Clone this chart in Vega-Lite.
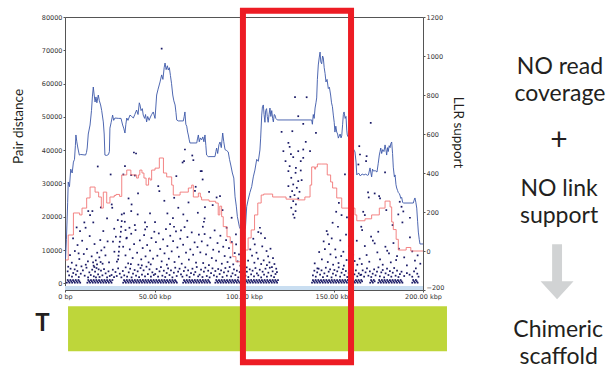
{
"$schema":"https://vega.github.io/schema/vega-lite/v6.json",
"width":358,"height":273,
"autosize":{"type":"none"},
"padding":{"left":65,"top":17,"right":188,"bottom":78},
"background":"white",
"config":{"view":{"stroke":"#555","strokeWidth":1},"axis":{"labelFont":"DejaVu Sans","labelFontSize":6.5,"labelColor":"#333","tickColor":"#555","tickSize":2,"labelPadding":1,"domain":false,"grid":false,"labelFlush":false,"labelOverlap":false,"tickCount":20,"titleFont":"Lato","titleFontSize":13.5,"titleFontWeight":"normal","titleColor":"#231F20"}},
"datasets":{
"pairs":[
{"kbp":1,"dist":200},{"kbp":1.5,"dist":1000},{"kbp":2,"dist":600},{"kbp":2.5,"dist":200},{"kbp":3,"dist":1000},{"kbp":3.5,"dist":600},{"kbp":4,"dist":200},{"kbp":4.5,"dist":1000},{"kbp":5,"dist":600},{"kbp":5.5,"dist":200},{"kbp":6,"dist":1000},{"kbp":6.5,"dist":600},{"kbp":7,"dist":200},{"kbp":7.5,"dist":1000},{"kbp":8,"dist":600},{"kbp":8.5,"dist":200},
{"kbp":12.5,"dist":200},{"kbp":13,"dist":1000},{"kbp":13.5,"dist":600},{"kbp":14,"dist":200},{"kbp":14.5,"dist":1000},{"kbp":15,"dist":600},{"kbp":15.5,"dist":200},{"kbp":16,"dist":1000},{"kbp":16.5,"dist":600},{"kbp":17,"dist":200},{"kbp":17.5,"dist":1000},{"kbp":18,"dist":600},{"kbp":18.5,"dist":200},{"kbp":19,"dist":1000},{"kbp":19.5,"dist":600},{"kbp":20,"dist":200},{"kbp":20.5,"dist":1000},{"kbp":21,"dist":600},{"kbp":21.5,"dist":200},{"kbp":22,"dist":1000},{"kbp":22.5,"dist":600},{"kbp":23,"dist":200},{"kbp":23.5,"dist":1000},{"kbp":24,"dist":600},{"kbp":24.5,"dist":200},{"kbp":25,"dist":1000},{"kbp":25.5,"dist":600},{"kbp":26,"dist":200},{"kbp":26.5,"dist":1000},
{"kbp":32.5,"dist":200},{"kbp":33,"dist":1000},{"kbp":33.5,"dist":600},{"kbp":34,"dist":200},{"kbp":34.5,"dist":1000},{"kbp":35,"dist":600},{"kbp":35.5,"dist":200},{"kbp":36,"dist":1000},{"kbp":36.5,"dist":600},{"kbp":37,"dist":200},{"kbp":37.5,"dist":1000},{"kbp":38,"dist":600},{"kbp":38.5,"dist":200},{"kbp":39,"dist":1000},{"kbp":39.5,"dist":600},{"kbp":40,"dist":200},{"kbp":40.5,"dist":1000},{"kbp":41,"dist":600},{"kbp":41.5,"dist":200},{"kbp":42,"dist":1000},{"kbp":42.5,"dist":600},{"kbp":43,"dist":200},{"kbp":43.5,"dist":1000},{"kbp":44,"dist":600},{"kbp":44.5,"dist":200},{"kbp":45,"dist":1000},{"kbp":45.5,"dist":600},{"kbp":46,"dist":200},{"kbp":46.5,"dist":1000},{"kbp":47,"dist":600},{"kbp":47.5,"dist":200},{"kbp":48,"dist":1000},{"kbp":48.5,"dist":600},{"kbp":49,"dist":200},{"kbp":49.5,"dist":1000},{"kbp":50,"dist":600},{"kbp":50.5,"dist":200},{"kbp":51,"dist":1000},{"kbp":51.5,"dist":600},{"kbp":52,"dist":200},{"kbp":52.5,"dist":1000},{"kbp":53,"dist":600},{"kbp":53.5,"dist":200},{"kbp":54,"dist":1000},{"kbp":54.5,"dist":600},{"kbp":55,"dist":200},{"kbp":55.5,"dist":1000},{"kbp":56,"dist":600},{"kbp":56.5,"dist":200},{"kbp":57,"dist":1000},{"kbp":57.5,"dist":600},{"kbp":58,"dist":200},{"kbp":58.5,"dist":1000},{"kbp":59,"dist":600},{"kbp":59.5,"dist":200},{"kbp":60,"dist":1000},{"kbp":60.5,"dist":600},{"kbp":61,"dist":200},{"kbp":61.5,"dist":1000},{"kbp":62,"dist":600},{"kbp":62.5,"dist":200},
{"kbp":66,"dist":200},{"kbp":66.5,"dist":1000},{"kbp":67,"dist":600},{"kbp":67.5,"dist":200},{"kbp":68,"dist":1000},{"kbp":68.5,"dist":600},{"kbp":69,"dist":200},{"kbp":69.5,"dist":1000},{"kbp":70,"dist":600},{"kbp":70.5,"dist":200},{"kbp":71,"dist":1000},{"kbp":71.5,"dist":600},{"kbp":72,"dist":200},{"kbp":72.5,"dist":1000},{"kbp":73,"dist":600},{"kbp":73.5,"dist":200},{"kbp":74,"dist":1000},{"kbp":74.5,"dist":600},{"kbp":75,"dist":200},{"kbp":75.5,"dist":1000},{"kbp":76,"dist":600},{"kbp":76.5,"dist":200},{"kbp":77,"dist":1000},{"kbp":77.5,"dist":600},{"kbp":78,"dist":200},{"kbp":78.5,"dist":1000},{"kbp":79,"dist":600},{"kbp":79.5,"dist":200},{"kbp":80,"dist":1000},{"kbp":80.5,"dist":600},{"kbp":81,"dist":200},
{"kbp":84,"dist":200},{"kbp":84.5,"dist":1000},{"kbp":85,"dist":600},{"kbp":85.5,"dist":200},{"kbp":86,"dist":1000},{"kbp":86.5,"dist":600},{"kbp":87,"dist":200},{"kbp":87.5,"dist":1000},{"kbp":88,"dist":600},{"kbp":88.5,"dist":200},{"kbp":89,"dist":1000},{"kbp":89.5,"dist":600},{"kbp":90,"dist":200},{"kbp":90.5,"dist":1000},{"kbp":91,"dist":600},{"kbp":91.5,"dist":200},{"kbp":92,"dist":1000},{"kbp":92.5,"dist":600},{"kbp":93,"dist":200},{"kbp":93.5,"dist":1000},{"kbp":94,"dist":600},{"kbp":94.5,"dist":200},{"kbp":95,"dist":1000},{"kbp":95.5,"dist":600},{"kbp":96,"dist":200},{"kbp":96.5,"dist":1000},{"kbp":97,"dist":600},{"kbp":97.5,"dist":200},
{"kbp":100.5,"dist":200},{"kbp":101,"dist":1000},{"kbp":101.5,"dist":600},{"kbp":102,"dist":200},{"kbp":102.5,"dist":1000},{"kbp":103,"dist":600},{"kbp":103.5,"dist":200},{"kbp":104,"dist":1000},{"kbp":104.5,"dist":600},{"kbp":105,"dist":200},{"kbp":105.5,"dist":1000},{"kbp":106,"dist":600},{"kbp":106.5,"dist":200},{"kbp":107,"dist":1000},{"kbp":107.5,"dist":600},{"kbp":108,"dist":200},{"kbp":108.5,"dist":1000},{"kbp":109,"dist":600},{"kbp":109.5,"dist":200},{"kbp":110,"dist":1000},{"kbp":110.5,"dist":600},{"kbp":111,"dist":200},{"kbp":111.5,"dist":1000},{"kbp":112,"dist":600},{"kbp":112.5,"dist":200},{"kbp":113,"dist":1000},{"kbp":113.5,"dist":600},{"kbp":114,"dist":200},{"kbp":114.5,"dist":1000},{"kbp":115,"dist":600},{"kbp":115.5,"dist":200},{"kbp":116,"dist":1000},{"kbp":116.5,"dist":600},{"kbp":117,"dist":200},{"kbp":117.5,"dist":1000},{"kbp":118,"dist":600},{"kbp":118.5,"dist":200},{"kbp":119,"dist":1000},
{"kbp":138,"dist":200},{"kbp":138.5,"dist":1000},{"kbp":139,"dist":600},{"kbp":139.5,"dist":200},{"kbp":140,"dist":1000},{"kbp":140.5,"dist":600},{"kbp":141,"dist":200},{"kbp":141.5,"dist":1000},{"kbp":142,"dist":600},{"kbp":142.5,"dist":200},{"kbp":143,"dist":1000},{"kbp":143.5,"dist":600},{"kbp":144,"dist":200},{"kbp":144.5,"dist":1000},{"kbp":145,"dist":600},{"kbp":145.5,"dist":200},{"kbp":146,"dist":1000},{"kbp":146.5,"dist":600},{"kbp":147,"dist":200},{"kbp":147.5,"dist":1000},{"kbp":148,"dist":600},{"kbp":148.5,"dist":200},{"kbp":149,"dist":1000},{"kbp":149.5,"dist":600},{"kbp":150,"dist":200},{"kbp":150.5,"dist":1000},{"kbp":151,"dist":600},{"kbp":151.5,"dist":200},{"kbp":152,"dist":1000},{"kbp":152.5,"dist":600},{"kbp":153,"dist":200},{"kbp":153.5,"dist":1000},{"kbp":154,"dist":600},{"kbp":154.5,"dist":200},{"kbp":155,"dist":1000},{"kbp":155.5,"dist":600},{"kbp":156,"dist":200},{"kbp":156.5,"dist":1000},{"kbp":157,"dist":600},{"kbp":157.5,"dist":200},{"kbp":158,"dist":1000},{"kbp":158.5,"dist":600},{"kbp":159,"dist":200},{"kbp":159.5,"dist":1000},{"kbp":160,"dist":600},{"kbp":160.5,"dist":200},{"kbp":161,"dist":1000},{"kbp":161.5,"dist":600},{"kbp":162,"dist":200},{"kbp":162.5,"dist":1000},{"kbp":163,"dist":600},{"kbp":163.5,"dist":200},{"kbp":164,"dist":1000},{"kbp":164.5,"dist":600},{"kbp":165,"dist":200},{"kbp":165.5,"dist":1000},{"kbp":166,"dist":600},
{"kbp":170.5,"dist":200},{"kbp":171,"dist":1000},{"kbp":171.5,"dist":600},{"kbp":172,"dist":200},{"kbp":172.5,"dist":1000},{"kbp":173,"dist":600},
{"kbp":175,"dist":200},{"kbp":175.5,"dist":1000},{"kbp":176,"dist":600},{"kbp":176.5,"dist":200},{"kbp":177,"dist":1000},{"kbp":177.5,"dist":600},{"kbp":178,"dist":200},{"kbp":178.5,"dist":1000},{"kbp":179,"dist":600},{"kbp":179.5,"dist":200},{"kbp":180,"dist":1000},{"kbp":180.5,"dist":600},{"kbp":181,"dist":200},{"kbp":181.5,"dist":1000},{"kbp":182,"dist":600},{"kbp":182.5,"dist":200},{"kbp":183,"dist":1000},{"kbp":183.5,"dist":600},{"kbp":184,"dist":200},{"kbp":184.5,"dist":1000},{"kbp":185,"dist":600},{"kbp":185.5,"dist":200},{"kbp":186,"dist":1000},{"kbp":186.5,"dist":600},{"kbp":187,"dist":200},{"kbp":187.5,"dist":1000},{"kbp":188,"dist":600},{"kbp":188.5,"dist":200},
{"kbp":194,"dist":200},{"kbp":194.5,"dist":1000},{"kbp":195,"dist":600},{"kbp":195.5,"dist":200},{"kbp":196,"dist":1000},{"kbp":196.5,"dist":600},{"kbp":197,"dist":200},
{"kbp":18.3,"dist":35100},{"kbp":15.3,"dist":21700},{"kbp":13,"dist":21700},{"kbp":14,"dist":20500},{"kbp":10.8,"dist":18300},{"kbp":15.8,"dist":18300},{"kbp":8.4,"dist":15700},{"kbp":11.5,"dist":16700},{"kbp":21.4,"dist":15700},{"kbp":6.5,"dist":16800},{"kbp":23.5,"dist":19500},{"kbp":20,"dist":22800},
{"kbp":4.5,"dist":13500},{"kbp":7,"dist":11500},{"kbp":9.6,"dist":12800},{"kbp":12.2,"dist":10300},{"kbp":13.8,"dist":14200},{"kbp":16.5,"dist":11800},{"kbp":18,"dist":9200},{"kbp":19.7,"dist":13000},{"kbp":22,"dist":10800},{"kbp":23.8,"dist":12600},{"kbp":2.8,"dist":8500},{"kbp":5.5,"dist":9700},{"kbp":8,"dist":7300},{"kbp":10.5,"dist":8800},{"kbp":12.8,"dist":6600},{"kbp":14.9,"dist":8100},{"kbp":17.2,"dist":6900},{"kbp":19.2,"dist":7800},{"kbp":21,"dist":5900},{"kbp":22.6,"dist":8400},{"kbp":24.6,"dist":6300},{"kbp":3.8,"dist":6200},{"kbp":6.3,"dist":5400},{"kbp":9.2,"dist":5100},{"kbp":11.6,"dist":5600},{"kbp":16,"dist":5300},{"kbp":20.3,"dist":9900},{"kbp":1.8,"dist":5000},{"kbp":7.6,"dist":9000},
{"kbp":1.5,"dist":3600},{"kbp":2.3,"dist":2400},{"kbp":3.1,"dist":4400},{"kbp":3.9,"dist":2000},{"kbp":4.6,"dist":3100},{"kbp":5.4,"dist":4200},{"kbp":6.1,"dist":2600},{"kbp":6.9,"dist":3700},{"kbp":7.7,"dist":1900},{"kbp":8.8,"dist":2900},{"kbp":10,"dist":3900},{"kbp":11,"dist":2300},{"kbp":12,"dist":4700},{"kbp":12.9,"dist":1800},{"kbp":13.6,"dist":3300},{"kbp":14.4,"dist":2500},{"kbp":15.2,"dist":4100},{"kbp":16.1,"dist":2100},{"kbp":16.8,"dist":3500},{"kbp":17.6,"dist":4600},{"kbp":18.5,"dist":2700},{"kbp":19.3,"dist":1900},{"kbp":20.1,"dist":3800},{"kbp":20.9,"dist":2400},{"kbp":21.8,"dist":4300},{"kbp":22.7,"dist":3000},{"kbp":23.5,"dist":1800},{"kbp":24.3,"dist":3600},{"kbp":25,"dist":2200},{"kbp":17.9,"dist":5700},{"kbp":15.7,"dist":6300},{"kbp":19.9,"dist":6400},{"kbp":18.8,"dist":4200},{"kbp":16.4,"dist":4900},{"kbp":17.3,"dist":1800},
{"kbp":25.5,"dist":32700},{"kbp":32.6,"dist":32700},{"kbp":33.5,"dist":35200},{"kbp":38.5,"dist":39300},{"kbp":39.7,"dist":39000},{"kbp":37,"dist":32500},{"kbp":39,"dist":32400},{"kbp":40.8,"dist":27000},{"kbp":26.1,"dist":23700},{"kbp":26.4,"dist":22700},{"kbp":37.2,"dist":23700},{"kbp":37,"dist":21700},{"kbp":31.7,"dist":20700},{"kbp":40.6,"dist":20700},{"kbp":47.5,"dist":21000},{"kbp":44.7,"dist":18300},{"kbp":45.8,"dist":17000},{"kbp":35.5,"dist":25500},{"kbp":29.5,"dist":19000},
{"kbp":31.7,"dist":18700},{"kbp":31.4,"dist":17000},{"kbp":31.2,"dist":15500},{"kbp":30.9,"dist":14000},{"kbp":30.6,"dist":12500},{"kbp":30.3,"dist":11000},{"kbp":30.1,"dist":9500},{"kbp":29.9,"dist":8300},{"kbp":29.7,"dist":7200},{"kbp":33,"dist":21000},{"kbp":33.4,"dist":18500},{"kbp":33.8,"dist":16000},{"kbp":34.3,"dist":13500},
{"kbp":26.8,"dist":12500},{"kbp":27.6,"dist":9500},{"kbp":28.4,"dist":14000},{"kbp":29,"dist":6500},{"kbp":32.5,"dist":11000},{"kbp":33.8,"dist":8400},{"kbp":34.5,"dist":13700},{"kbp":35.3,"dist":6000},{"kbp":36.2,"dist":10200},{"kbp":37,"dist":14900},{"kbp":37.8,"dist":7600},{"kbp":38.6,"dist":11800},{"kbp":39.4,"dist":16000},{"kbp":40.3,"dist":9200},{"kbp":41,"dist":5600},{"kbp":41.8,"dist":12900},{"kbp":42.6,"dist":7200},{"kbp":43.4,"dist":10600},{"kbp":44.2,"dist":14500},{"kbp":45,"dist":8100},{"kbp":45.9,"dist":11500},{"kbp":46.7,"dist":6300},{"kbp":47.5,"dist":9800},{"kbp":48.3,"dist":13600},{"kbp":49.2,"dist":7400},{"kbp":49.9,"dist":15500},{"kbp":44.8,"dist":16200},{"kbp":39,"dist":17500},{"kbp":36,"dist":16700},{"kbp":27.5,"dist":16400},
{"kbp":26,"dist":2500},{"kbp":26.7,"dist":4100},{"kbp":27.4,"dist":1900},{"kbp":28.2,"dist":3400},{"kbp":28.9,"dist":2200},{"kbp":29.7,"dist":4500},{"kbp":30.6,"dist":2900},{"kbp":31.5,"dist":1800},{"kbp":32.3,"dist":3700},{"kbp":33.1,"dist":2400},{"kbp":33.9,"dist":4800},{"kbp":34.7,"dist":2000},{"kbp":35.6,"dist":3300},{"kbp":36.4,"dist":4400},{"kbp":37.2,"dist":1800},{"kbp":38,"dist":2900},{"kbp":38.9,"dist":4000},{"kbp":39.7,"dist":2300},{"kbp":40.6,"dist":3600},{"kbp":41.4,"dist":1900},{"kbp":42.2,"dist":4600},{"kbp":43,"dist":2600},{"kbp":43.9,"dist":3900},{"kbp":44.7,"dist":2100},{"kbp":45.5,"dist":5000},{"kbp":46.3,"dist":2800},{"kbp":47.2,"dist":4200},{"kbp":48,"dist":2000},{"kbp":48.8,"dist":3300},{"kbp":49.6,"dist":2500},{"kbp":36.8,"dist":5800},{"kbp":42.9,"dist":5400},{"kbp":47.9,"dist":5700},
{"kbp":54,"dist":70500},{"kbp":52.1,"dist":29200},{"kbp":52.7,"dist":27700},{"kbp":65.7,"dist":36300},{"kbp":67,"dist":40200},{"kbp":66.5,"dist":36700},{"kbp":71.1,"dist":38400},{"kbp":71.7,"dist":37000},{"kbp":73,"dist":29000},{"kbp":72.6,"dist":27800},{"kbp":63.3,"dist":22700},{"kbp":66.1,"dist":20700},{"kbp":50.3,"dist":18400},{"kbp":58.7,"dist":17800},{"kbp":55.5,"dist":24800},{"kbp":61,"dist":25700},{"kbp":69,"dist":24300},{"kbp":74.2,"dist":21200},{"kbp":57.2,"dist":21000},{"kbp":60.3,"dist":19600},{"kbp":68.3,"dist":18800},{"kbp":62.2,"dist":32200},
{"kbp":50.8,"dist":12400},{"kbp":51.6,"dist":8300},{"kbp":52.4,"dist":15000},{"kbp":53.2,"dist":10300},{"kbp":54,"dist":6600},{"kbp":54.8,"dist":13200},{"kbp":55.6,"dist":9000},{"kbp":56.4,"dist":16300},{"kbp":57.2,"dist":11200},{"kbp":58,"dist":7400},{"kbp":58.8,"dist":14300},{"kbp":59.6,"dist":9600},{"kbp":60.4,"dist":12700},{"kbp":61.2,"dist":6400},{"kbp":62,"dist":15600},{"kbp":62.8,"dist":10800},{"kbp":63.6,"dist":8000},{"kbp":64.4,"dist":13400},{"kbp":65.2,"dist":5900},{"kbp":66,"dist":11600},{"kbp":66.8,"dist":16900},{"kbp":67.6,"dist":9200},{"kbp":68.4,"dist":13900},{"kbp":69.2,"dist":7100},{"kbp":70,"dist":10200},{"kbp":70.8,"dist":15300},{"kbp":71.6,"dist":8600},{"kbp":72.4,"dist":12300},{"kbp":73.2,"dist":6200},{"kbp":74,"dist":10900},{"kbp":74.8,"dist":14600},{"kbp":60.9,"dist":17000},{"kbp":56.9,"dist":5600},{"kbp":64.8,"dist":15900},
{"kbp":50.4,"dist":2800},{"kbp":51.2,"dist":4300},{"kbp":52,"dist":2000},{"kbp":52.8,"dist":3600},{"kbp":53.6,"dist":4900},{"kbp":54.4,"dist":2300},{"kbp":55.2,"dist":3800},{"kbp":56,"dist":1900},{"kbp":56.8,"dist":3100},{"kbp":57.6,"dist":4500},{"kbp":58.4,"dist":2500},{"kbp":59.2,"dist":3900},{"kbp":60,"dist":1800},{"kbp":60.8,"dist":3200},{"kbp":61.6,"dist":4700},{"kbp":62.4,"dist":2200},{"kbp":63.2,"dist":3500},{"kbp":64,"dist":4400},{"kbp":64.8,"dist":2700},{"kbp":65.6,"dist":2000},{"kbp":66.4,"dist":3700},{"kbp":67.2,"dist":4800},{"kbp":68,"dist":2400},{"kbp":68.8,"dist":3900},{"kbp":69.6,"dist":1900},{"kbp":70.4,"dist":3100},{"kbp":71.2,"dist":4400},{"kbp":72,"dist":2600},{"kbp":72.8,"dist":3400},{"kbp":73.6,"dist":4900},{"kbp":74.4,"dist":2100},
{"kbp":76.4,"dist":33700},{"kbp":75.8,"dist":33700},{"kbp":76.9,"dist":31200},{"kbp":84.7,"dist":25800},{"kbp":86.6,"dist":26200},{"kbp":78.2,"dist":22900},{"kbp":78,"dist":19500},{"kbp":77.6,"dist":18500},{"kbp":77,"dist":17000},{"kbp":90.3,"dist":16700},{"kbp":93.1,"dist":19700},{"kbp":80.5,"dist":27500},{"kbp":82.5,"dist":23500},{"kbp":88,"dist":22000},{"kbp":95.5,"dist":14700},
{"kbp":75.6,"dist":9300},{"kbp":76.4,"dist":12600},{"kbp":77.2,"dist":6100},{"kbp":78,"dist":14800},{"kbp":78.8,"dist":8700},{"kbp":79.6,"dist":11400},{"kbp":80.4,"dist":5500},{"kbp":81.2,"dist":13700},{"kbp":82,"dist":7600},{"kbp":82.8,"dist":10100},{"kbp":83.6,"dist":15900},{"kbp":84.4,"dist":6800},{"kbp":85.2,"dist":12100},{"kbp":86,"dist":9500},{"kbp":86.8,"dist":14300},{"kbp":87.6,"dist":5900},{"kbp":88.4,"dist":11000},{"kbp":89.2,"dist":8200},{"kbp":90,"dist":13000},{"kbp":90.8,"dist":6400},{"kbp":91.6,"dist":10600},{"kbp":92.4,"dist":7800},{"kbp":93.2,"dist":12400},{"kbp":94,"dist":5700},{"kbp":94.8,"dist":9100},{"kbp":95.6,"dist":11700},{"kbp":96.4,"dist":6600},{"kbp":97.2,"dist":8700},{"kbp":98,"dist":5300},{"kbp":99,"dist":7200},
{"kbp":75.2,"dist":2600},{"kbp":76,"dist":4100},{"kbp":76.8,"dist":1900},{"kbp":77.6,"dist":3500},{"kbp":78.4,"dist":4700},{"kbp":79.2,"dist":2200},{"kbp":80,"dist":3800},{"kbp":80.8,"dist":1800},{"kbp":81.6,"dist":3100},{"kbp":82.4,"dist":4500},{"kbp":83.2,"dist":2400},{"kbp":84,"dist":3700},{"kbp":84.8,"dist":2000},{"kbp":85.6,"dist":4300},{"kbp":86.4,"dist":2800},{"kbp":87.2,"dist":3900},{"kbp":88,"dist":1900},{"kbp":88.8,"dist":3300},{"kbp":89.6,"dist":4600},{"kbp":90.4,"dist":2300},{"kbp":91.2,"dist":3600},{"kbp":92,"dist":4900},{"kbp":92.8,"dist":2100},{"kbp":93.6,"dist":3000},{"kbp":94.4,"dist":4200},{"kbp":95.2,"dist":2500},{"kbp":96,"dist":3800},{"kbp":96.8,"dist":1800},{"kbp":97.6,"dist":3400},{"kbp":98.4,"dist":2700},{"kbp":99.2,"dist":4000},{"kbp":99.8,"dist":2200},
{"kbp":108.9,"dist":16700},{"kbp":108,"dist":15400},{"kbp":109.5,"dist":15000},{"kbp":105.2,"dist":13400},{"kbp":106,"dist":11700},{"kbp":111.7,"dist":13600},{"kbp":112.6,"dist":9700},{"kbp":103.5,"dist":10200},{"kbp":104.5,"dist":8300},{"kbp":107,"dist":9200},{"kbp":110.2,"dist":11100},{"kbp":113.5,"dist":8100},{"kbp":114.8,"dist":10400},{"kbp":116.2,"dist":7600},{"kbp":102.3,"dist":6800},{"kbp":105.8,"dist":6200},{"kbp":107.8,"dist":7400},{"kbp":109.6,"dist":5800},{"kbp":111,"dist":6900},{"kbp":112.8,"dist":5500},{"kbp":114.2,"dist":6300},{"kbp":115.6,"dist":4900},{"kbp":117,"dist":5800},{"kbp":118,"dist":4400},{"kbp":101.5,"dist":4800},
{"kbp":100.8,"dist":2300},{"kbp":101.6,"dist":3500},{"kbp":102.4,"dist":1900},{"kbp":103.2,"dist":4200},{"kbp":104,"dist":2700},{"kbp":104.8,"dist":3800},{"kbp":105.6,"dist":2100},{"kbp":106.4,"dist":4600},{"kbp":107.2,"dist":3000},{"kbp":108,"dist":2400},{"kbp":108.8,"dist":4100},{"kbp":109.6,"dist":1800},{"kbp":110.4,"dist":3500},{"kbp":111.2,"dist":2600},{"kbp":112,"dist":4400},{"kbp":112.8,"dist":2000},{"kbp":113.6,"dist":3200},{"kbp":114.4,"dist":4700},{"kbp":115.2,"dist":2300},{"kbp":116,"dist":3600},{"kbp":116.8,"dist":1900},{"kbp":117.6,"dist":2800},{"kbp":118.4,"dist":3400},
{"kbp":128.5,"dist":55900},{"kbp":135,"dist":55900},{"kbp":130.3,"dist":50200},{"kbp":133.1,"dist":47900},{"kbp":127,"dist":45700},{"kbp":140.2,"dist":45200},{"kbp":124.8,"dist":42200},{"kbp":125.5,"dist":41000},{"kbp":122,"dist":39700},{"kbp":130.3,"dist":39700},{"kbp":133.1,"dist":40200},{"kbp":136.9,"dist":39700},{"kbp":123.2,"dist":36700},{"kbp":127.5,"dist":37900},{"kbp":131.7,"dist":36700},{"kbp":133.1,"dist":37700},{"kbp":125.5,"dist":35200},{"kbp":129,"dist":34700},{"kbp":124.8,"dist":33700},{"kbp":128.8,"dist":33200},{"kbp":131.7,"dist":33900},{"kbp":126.4,"dist":31700},{"kbp":130.3,"dist":30700},{"kbp":127.5,"dist":29700},{"kbp":124.8,"dist":29200},{"kbp":129.5,"dist":28700},{"kbp":131,"dist":27500},{"kbp":126.9,"dist":27700},{"kbp":128.2,"dist":26500},{"kbp":125.9,"dist":26000},{"kbp":130.3,"dist":25500},{"kbp":127.5,"dist":24700},{"kbp":129,"dist":23700},{"kbp":126.4,"dist":22700},{"kbp":128.8,"dist":21700},{"kbp":127.5,"dist":20700},{"kbp":128.2,"dist":19700},{"kbp":134.5,"dist":42500},{"kbp":121,"dist":45500},{"kbp":126.2,"dist":38800},{"kbp":132.2,"dist":31000},
{"kbp":156.4,"dist":32700},{"kbp":146.2,"dist":15700},{"kbp":146.8,"dist":14700},{"kbp":151.5,"dist":21500},{"kbp":153,"dist":24200},{"kbp":154.5,"dist":20500},{"kbp":149.5,"dist":18200},{"kbp":152.5,"dist":17000},{"kbp":157.5,"dist":19800},{"kbp":159.5,"dist":22600},{"kbp":160.5,"dist":16200},{"kbp":144.5,"dist":12600},{"kbp":147.5,"dist":11800},{"kbp":149,"dist":13500},{"kbp":151,"dist":10200},{"kbp":153.8,"dist":12900},{"kbp":155.5,"dist":9500},{"kbp":157,"dist":14600},{"kbp":158.8,"dist":11200},{"kbp":161,"dist":8600},{"kbp":163,"dist":12800},{"kbp":142,"dist":9400},{"kbp":143.5,"dist":7200},{"kbp":145.2,"dist":10300},{"kbp":146.8,"dist":6400},{"kbp":148.3,"dist":8700},{"kbp":149.8,"dist":5600},{"kbp":151.3,"dist":7800},{"kbp":152.8,"dist":6100},{"kbp":154.3,"dist":8200},{"kbp":155.8,"dist":5300},{"kbp":157.3,"dist":7000},{"kbp":158.8,"dist":6200},{"kbp":160.3,"dist":5000},{"kbp":161.8,"dist":6700},{"kbp":163.3,"dist":5600},{"kbp":164.6,"dist":7400},{"kbp":139.5,"dist":6000},{"kbp":141,"dist":4500},
{"kbp":138.5,"dist":2400},{"kbp":139.3,"dist":3800},{"kbp":140.1,"dist":2000},{"kbp":140.9,"dist":3300},{"kbp":141.7,"dist":4400},{"kbp":142.5,"dist":2600},{"kbp":143.3,"dist":3900},{"kbp":144.1,"dist":1900},{"kbp":144.9,"dist":3000},{"kbp":145.7,"dist":4700},{"kbp":146.5,"dist":2200},{"kbp":147.3,"dist":3500},{"kbp":148.1,"dist":4200},{"kbp":148.9,"dist":1800},{"kbp":149.7,"dist":2900},{"kbp":150.5,"dist":4000},{"kbp":151.3,"dist":2400},{"kbp":152.1,"dist":3600},{"kbp":152.9,"dist":4800},{"kbp":153.7,"dist":2000},{"kbp":154.5,"dist":3200},{"kbp":155.3,"dist":4300},{"kbp":156.1,"dist":2500},{"kbp":156.9,"dist":3700},{"kbp":157.7,"dist":1900},{"kbp":158.5,"dist":3100},{"kbp":159.3,"dist":4500},{"kbp":160.1,"dist":2200},{"kbp":160.9,"dist":3400},{"kbp":161.7,"dist":2700},{"kbp":162.5,"dist":3900},{"kbp":163.3,"dist":2100},{"kbp":164.1,"dist":3000},{"kbp":165,"dist":2500},
{"kbp":170.8,"dist":48200},{"kbp":164.4,"dist":41200},{"kbp":164.8,"dist":38700},{"kbp":168.5,"dist":38200},{"kbp":163.9,"dist":35700},{"kbp":168.2,"dist":36700},{"kbp":178.8,"dist":33300},{"kbp":169.3,"dist":27300},{"kbp":169.7,"dist":25800},{"kbp":173,"dist":27000},{"kbp":175.5,"dist":26200},{"kbp":176,"dist":25500},{"kbp":166.6,"dist":21500},{"kbp":167.5,"dist":20500},{"kbp":187,"dist":24500},{"kbp":188,"dist":23000},{"kbp":186.2,"dist":20700},{"kbp":189,"dist":21600},{"kbp":188.5,"dist":18300},{"kbp":192.7,"dist":19700},{"kbp":192.7,"dist":13800},{"kbp":165.5,"dist":17000},{"kbp":166,"dist":16000},{"kbp":183,"dist":17500},{"kbp":179.5,"dist":22000},
{"kbp":171,"dist":14000},{"kbp":172,"dist":12800},{"kbp":173,"dist":12000},{"kbp":179,"dist":11000},{"kbp":180,"dist":9800},{"kbp":181,"dist":9000},{"kbp":185,"dist":7000},{"kbp":185.5,"dist":8200},{"kbp":167.5,"dist":11200},{"kbp":168.5,"dist":8500},{"kbp":170,"dist":6500},{"kbp":174.5,"dist":9300},{"kbp":176,"dist":7200},{"kbp":177.5,"dist":5600},{"kbp":182,"dist":6300},{"kbp":183.5,"dist":12100},{"kbp":186.5,"dist":10400},{"kbp":189.5,"dist":7800},{"kbp":191,"dist":5400},{"kbp":194,"dist":9600},{"kbp":195.5,"dist":6800},{"kbp":197,"dist":8400},{"kbp":198.5,"dist":5900},{"kbp":165.8,"dist":5800},{"kbp":175,"dist":15500},
{"kbp":165.5,"dist":2600},{"kbp":166.3,"dist":3900},{"kbp":167.1,"dist":2000},{"kbp":167.9,"dist":3300},{"kbp":168.7,"dist":4500},{"kbp":169.5,"dist":2300},{"kbp":170.3,"dist":3600},{"kbp":171.1,"dist":1900},{"kbp":171.9,"dist":2900},{"kbp":172.7,"dist":4200},{"kbp":173.5,"dist":2400},{"kbp":174.3,"dist":3500},{"kbp":175.1,"dist":4800},{"kbp":175.9,"dist":2100},{"kbp":176.7,"dist":3300},{"kbp":177.5,"dist":4000},{"kbp":178.3,"dist":1800},{"kbp":179.1,"dist":3000},{"kbp":179.9,"dist":4400},{"kbp":180.7,"dist":2500},{"kbp":181.5,"dist":3700},{"kbp":182.3,"dist":2000},{"kbp":183.1,"dist":3200},{"kbp":183.9,"dist":4600},{"kbp":184.7,"dist":2300},{"kbp":185.5,"dist":3800},{"kbp":186.3,"dist":1900},{"kbp":187.1,"dist":2800},{"kbp":188,"dist":3500},{"kbp":189.5,"dist":2200},{"kbp":191,"dist":3100},{"kbp":192.5,"dist":2600},{"kbp":194,"dist":2000},{"kbp":195,"dist":3600},{"kbp":196,"dist":4500},{"kbp":196.8,"dist":2900},{"kbp":197.5,"dist":2000}
],
"cov":[
{"kbp":0.3,"coverage":-40},{"kbp":0.8,"coverage":60},{"kbp":1.5,"coverage":250},{"kbp":1.8,"coverage":354},{"kbp":2.5,"coverage":330},{"kbp":3.2,"coverage":420},{"kbp":4,"coverage":400},{"kbp":4.7,"coverage":456},{"kbp":5.3,"coverage":470},{"kbp":5.8,"coverage":540},{"kbp":6.1,"coverage":595},{"kbp":6.6,"coverage":560},{"kbp":7.2,"coverage":528},{"kbp":8,"coverage":492},{"kbp":8.8,"coverage":495},{"kbp":11.5,"coverage":492},{"kbp":12,"coverage":505},{"kbp":12.4,"coverage":528},{"kbp":13,"coverage":600},{"kbp":14,"coverage":646},{"kbp":14.8,"coverage":720},{"kbp":15.3,"coverage":790},{"kbp":15.8,"coverage":841},{"kbp":16.3,"coverage":800},{"kbp":16.8,"coverage":764},{"kbp":17.3,"coverage":790},{"kbp":17.8,"coverage":760},{"kbp":18.6,"coverage":800},{"kbp":19.2,"coverage":770},{"kbp":19.9,"coverage":749},{"kbp":20.5,"coverage":720},{"kbp":21.4,"coverage":662},{"kbp":21.9,"coverage":600},{"kbp":22.3,"coverage":492},{"kbp":23.3,"coverage":490},{"kbp":24.3,"coverage":495},{"kbp":24.8,"coverage":510},{"kbp":25.1,"coverage":630},{"kbp":25.8,"coverage":660},{"kbp":26.6,"coverage":697},{"kbp":27.2,"coverage":670},{"kbp":27.9,"coverage":682},{"kbp":30,"coverage":680},{"kbp":31.3,"coverage":680},{"kbp":32.2,"coverage":646},{"kbp":32.8,"coverage":630},{"kbp":33.5,"coverage":605},{"kbp":34,"coverage":650},{"kbp":34.5,"coverage":682},{"kbp":35.2,"coverage":670},{"kbp":36.3,"coverage":697},{"kbp":37.2,"coverage":690},{"kbp":38.2,"coverage":682},{"kbp":39,"coverage":700},{"kbp":40,"coverage":723},{"kbp":40.8,"coverage":700},{"kbp":41.5,"coverage":760},{"kbp":41.9,"coverage":749},{"kbp":42.5,"coverage":720},{"kbp":43.2,"coverage":730},{"kbp":43.7,"coverage":697},{"kbp":44.5,"coverage":680},{"kbp":45,"coverage":700},{"kbp":45.6,"coverage":662},{"kbp":46.2,"coverage":690},{"kbp":47,"coverage":670},{"kbp":47.5,"coverage":682},{"kbp":48.4,"coverage":700},{"kbp":49.3,"coverage":713},{"kbp":50.3,"coverage":680},{"kbp":51.2,"coverage":800},{"kbp":52,"coverage":830},{"kbp":53.1,"coverage":867},{"kbp":54,"coverage":903},{"kbp":54.7,"coverage":880},{"kbp":55.4,"coverage":940},{"kbp":55.9,"coverage":964},{"kbp":56.5,"coverage":930},{"kbp":57.2,"coverage":950},{"kbp":57.7,"coverage":928},{"kbp":58.3,"coverage":940},{"kbp":58.9,"coverage":900},{"kbp":59.5,"coverage":860},{"kbp":60.2,"coverage":800},{"kbp":60.8,"coverage":770},{"kbp":61.5,"coverage":749},{"kbp":62,"coverage":710},{"kbp":62.4,"coverage":672},{"kbp":63.3,"coverage":667},{"kbp":66.1,"coverage":667},{"kbp":66.6,"coverage":690},{"kbp":67,"coverage":713},{"kbp":67.5,"coverage":650},{"kbp":68,"coverage":640},{"kbp":68.5,"coverage":610},{"kbp":68.9,"coverage":595},{"kbp":69.4,"coverage":570},{"kbp":69.8,"coverage":554},{"kbp":73.6,"coverage":554},{"kbp":74,"coverage":575},{"kbp":74.5,"coverage":595},{"kbp":75,"coverage":560},{"kbp":75.6,"coverage":580},{"kbp":76.3,"coverage":570},{"kbp":77,"coverage":585},{"kbp":77.6,"coverage":560},{"kbp":78.2,"coverage":595},{"kbp":78.7,"coverage":540},{"kbp":79.1,"coverage":492},{"kbp":80,"coverage":484},{"kbp":83.8,"coverage":484},{"kbp":84.3,"coverage":510},{"kbp":84.7,"coverage":528},{"kbp":85.3,"coverage":500},{"kbp":86,"coverage":545},{"kbp":86.6,"coverage":559},{"kbp":87.3,"coverage":530},{"kbp":88.1,"coverage":605},{"kbp":88.7,"coverage":560},{"kbp":89.4,"coverage":520},{"kbp":90.3,"coverage":515},{"kbp":91.2,"coverage":508},{"kbp":91.9,"coverage":470},{"kbp":92.6,"coverage":441},{"kbp":93.5,"coverage":400},{"kbp":94.3,"coverage":374},{"kbp":95,"coverage":278},{"kbp":95.7,"coverage":230},{"kbp":96.3,"coverage":176},{"kbp":97.4,"coverage":125},{"kbp":99,"coverage":90},{"kbp":100.8,"coverage":118},{"kbp":101.5,"coverage":227},{"kbp":102.3,"coverage":262},{"kbp":103.3,"coverage":300},{"kbp":104.3,"coverage":330},{"kbp":105.2,"coverage":380},{"kbp":106.1,"coverage":415},{"kbp":107.1,"coverage":470},{"kbp":108,"coverage":460},{"kbp":108.9,"coverage":518},{"kbp":109.3,"coverage":579},{"kbp":109.9,"coverage":697},{"kbp":110.3,"coverage":740},{"kbp":110.8,"coverage":749},{"kbp":111.2,"coverage":700},{"kbp":111.7,"coverage":660},{"kbp":112.1,"coverage":720},{"kbp":112.6,"coverage":730},{"kbp":113,"coverage":690},{"kbp":113.5,"coverage":660},{"kbp":114,"coverage":700},{"kbp":114.5,"coverage":733},{"kbp":115,"coverage":690},{"kbp":115.5,"coverage":720},{"kbp":116,"coverage":680},{"kbp":116.4,"coverage":662},{"kbp":116.9,"coverage":700},{"kbp":117.3,"coverage":697},{"kbp":117.8,"coverage":680},{"kbp":118.6,"coverage":672},{"kbp":137.8,"coverage":672},{"kbp":138.2,"coverage":650},{"kbp":138.7,"coverage":700},{"kbp":139.2,"coverage":680},{"kbp":139.7,"coverage":733},{"kbp":140.2,"coverage":760},{"kbp":140.6,"coverage":785},{"kbp":141,"coverage":880},{"kbp":141.5,"coverage":954},{"kbp":142,"coverage":990},{"kbp":142.5,"coverage":1020},{"kbp":142.9,"coverage":970},{"kbp":143.4,"coverage":960},{"kbp":143.9,"coverage":1000},{"kbp":144.3,"coverage":990},{"kbp":144.8,"coverage":940},{"kbp":145.3,"coverage":910},{"kbp":145.8,"coverage":867},{"kbp":146.4,"coverage":880},{"kbp":147.1,"coverage":833},{"kbp":147.7,"coverage":840},{"kbp":148.4,"coverage":800},{"kbp":148.9,"coverage":760},{"kbp":149.4,"coverage":740},{"kbp":149.9,"coverage":697},{"kbp":150.4,"coverage":660},{"kbp":150.8,"coverage":610},{"kbp":151.3,"coverage":640},{"kbp":151.8,"coverage":610},{"kbp":152.3,"coverage":600},{"kbp":152.7,"coverage":579},{"kbp":153.2,"coverage":590},{"kbp":153.7,"coverage":600},{"kbp":154.2,"coverage":580},{"kbp":154.6,"coverage":590},{"kbp":155.1,"coverage":650},{"kbp":155.5,"coverage":700},{"kbp":155.9,"coverage":713},{"kbp":156.5,"coverage":680},{"kbp":157,"coverage":690},{"kbp":157.4,"coverage":620},{"kbp":157.7,"coverage":595},{"kbp":158.5,"coverage":580},{"kbp":159.5,"coverage":560},{"kbp":160.5,"coverage":540},{"kbp":161.3,"coverage":520},{"kbp":162,"coverage":508},{"kbp":162.6,"coverage":456},{"kbp":163,"coverage":390},{"kbp":164,"coverage":400},{"kbp":165,"coverage":385},{"kbp":166,"coverage":395},{"kbp":167,"coverage":390},{"kbp":168,"coverage":394},{"kbp":169,"coverage":388},{"kbp":169.5,"coverage":390},{"kbp":170,"coverage":410},{"kbp":170.4,"coverage":426},{"kbp":170.9,"coverage":400},{"kbp":171.3,"coverage":380},{"kbp":171.8,"coverage":420},{"kbp":172.3,"coverage":410},{"kbp":173.3,"coverage":412},{"kbp":174.3,"coverage":405},{"kbp":175,"coverage":450},{"kbp":175.6,"coverage":492},{"kbp":176,"coverage":510},{"kbp":176.4,"coverage":528},{"kbp":176.9,"coverage":500},{"kbp":177.5,"coverage":520},{"kbp":178.2,"coverage":510},{"kbp":178.8,"coverage":544},{"kbp":179.3,"coverage":520},{"kbp":179.7,"coverage":492},{"kbp":180.2,"coverage":530},{"kbp":180.6,"coverage":510},{"kbp":181.1,"coverage":540},{"kbp":181.6,"coverage":530},{"kbp":182,"coverage":550},{"kbp":182.5,"coverage":559},{"kbp":183,"coverage":500},{"kbp":183.4,"coverage":430},{"kbp":184,"coverage":380},{"kbp":184.4,"coverage":390},{"kbp":184.9,"coverage":340},{"kbp":185.3,"coverage":323},{"kbp":185.8,"coverage":310},{"kbp":186.2,"coverage":300},{"kbp":186.7,"coverage":295},{"kbp":187.1,"coverage":287},{"kbp":187.6,"coverage":270},{"kbp":188.1,"coverage":275},{"kbp":188.6,"coverage":250},{"kbp":189,"coverage":246},{"kbp":194.6,"coverage":246},{"kbp":195,"coverage":260},{"kbp":195.5,"coverage":272},{"kbp":196,"coverage":250},{"kbp":196.5,"coverage":220},{"kbp":197,"coverage":150},{"kbp":197.4,"coverage":97},{"kbp":197.9,"coverage":60},{"kbp":198.3,"coverage":36},{"kbp":200,"coverage":36}
],
"llr":[
{"kbp":0.3,"llr":-46},{"kbp":1.8,"llr":82},{"kbp":4.7,"llr":195},{"kbp":8.2,"llr":185},{"kbp":9.5,"llr":220},{"kbp":12.1,"llr":272},{"kbp":14,"llr":328},{"kbp":16.8,"llr":302},{"kbp":18.8,"llr":277},{"kbp":20.3,"llr":220},{"kbp":21.4,"llr":302},{"kbp":23.3,"llr":246},{"kbp":25.1,"llr":277},{"kbp":27.5,"llr":285},{"kbp":28.5,"llr":290},{"kbp":30.5,"llr":280},{"kbp":31.7,"llr":390},{"kbp":34.5,"llr":415},{"kbp":36.8,"llr":390},{"kbp":40,"llr":374},{"kbp":41,"llr":390},{"kbp":41.8,"llr":415},{"kbp":43,"llr":400},{"kbp":44.1,"llr":374},{"kbp":45.3,"llr":338},{"kbp":46.7,"llr":374},{"kbp":47.5,"llr":364},{"kbp":48.4,"llr":415},{"kbp":50.3,"llr":425},{"kbp":52.7,"llr":477},{"kbp":55,"llr":400},{"kbp":56.8,"llr":380},{"kbp":59.6,"llr":338},{"kbp":60.5,"llr":287},{"kbp":64.3,"llr":302},{"kbp":68.9,"llr":323},{"kbp":70.8,"llr":338},{"kbp":71.7,"llr":277},{"kbp":74.5,"llr":297},{"kbp":75.6,"llr":277},{"kbp":76.3,"llr":262},{"kbp":80.5,"llr":255},{"kbp":84.2,"llr":246},{"kbp":85.6,"llr":185},{"kbp":86.5,"llr":230},{"kbp":87.5,"llr":176},{"kbp":88.4,"llr":125},{"kbp":90.5,"llr":73},{"kbp":92.3,"llr":41},{"kbp":93.7,"llr":-29},{"kbp":95.5,"llr":-55},{"kbp":100.8,"llr":5},{"kbp":102.3,"llr":67},{"kbp":104,"llr":108},{"kbp":105.9,"llr":185},{"kbp":107.7,"llr":246},{"kbp":109.6,"llr":287},{"kbp":111,"llr":292},{"kbp":116,"llr":277},{"kbp":123.5,"llr":266},{"kbp":130,"llr":262},{"kbp":134,"llr":277},{"kbp":136.9,"llr":338},{"kbp":137.8,"llr":431},{"kbp":139.5,"llr":420},{"kbp":140,"llr":431},{"kbp":141,"llr":446},{"kbp":143.4,"llr":446},{"kbp":146.5,"llr":390},{"kbp":148.4,"llr":354},{"kbp":149.5,"llr":323},{"kbp":151.8,"llr":272},{"kbp":154.6,"llr":220},{"kbp":162,"llr":185},{"kbp":163,"llr":155},{"kbp":167.6,"llr":165},{"kbp":171.3,"llr":185},{"kbp":175.6,"llr":220},{"kbp":178.8,"llr":256},{"kbp":181.6,"llr":226},{"kbp":182.5,"llr":149},{"kbp":183.4,"llr":110},{"kbp":185,"llr":60},{"kbp":186.2,"llr":5},{"kbp":190.6,"llr":18},{"kbp":193.2,"llr":0},{"kbp":200,"llr":0}
]
},
"layer":[
{
"layer":[
{"data":{"values":[{}]},"mark":{"type":"rect","fill":"#c9def1"},"encoding":{"x":{"datum":0},"x2":{"datum":200},"y":{"datum":-2000},"y2":{"datum":-800}}},
{"data":{"name":"pairs"},"mark":{"type":"point","shape":"square","filled":true,"size":3,"color":"#1a1a66","opacity":1},
"encoding":{
"x":{"field":"kbp","type":"quantitative","scale":{"domain":[0,200],"nice":false,"zero":false},"axis":{"values":[0,50,100,150,200],"labelExpr":"datum.value == 0 ? '0 bp' : format(datum.value, '.2f') + ' kbp'","title":null}},
"y":{"field":"dist","type":"quantitative","scale":{"domain":[-2000,80000],"nice":false,"zero":false},"axis":{"orient":"left","values":[0,10000,20000,30000,40000,50000,60000,70000,80000],"format":"d","title":"Pair distance","titleAngle":270,"titleX":-47,"titleY":109,"titleAlign":"center","titleBaseline":"middle"}}}},
{"data":{"values":[{}]},"mark":{"type":"rect","fill":"#BED63A"},"encoding":{"x":{"datum":1.7},"x2":{"datum":213.4},"y":{"datum":-6900},"y2":{"datum":-20400}}},
{"data":{"values":[{}]},"mark":{"type":"text","text":"T","font":"Lato","fontSize":24,"fontWeight":"bold","color":"#231F20","align":"center","baseline":"alphabetic"},"encoding":{"x":{"datum":-12.6},"y":{"datum":-14400}}},
{"data":{"values":[{}]},"mark":{"type":"text","text":"NO read","font":"Lato","fontSize":23,"color":"#231F20","align":"center","baseline":"alphabetic"},"encoding":{"x":{"datum":276.5},"y":{"datum":63000}}},
{"data":{"values":[{}]},"mark":{"type":"text","text":"coverage","font":"Lato","fontSize":23,"color":"#231F20","align":"center","baseline":"alphabetic"},"encoding":{"x":{"datum":276.5},"y":{"datum":54700}}},
{"data":{"values":[{}]},"mark":{"type":"text","text":"+","font":"Lato","fontSize":30,"color":"#231F20","align":"center","baseline":"alphabetic"},"encoding":{"x":{"datum":276},"y":{"datum":40100}}},
{"data":{"values":[{}]},"mark":{"type":"text","text":"NO link","font":"Lato","fontSize":23,"color":"#231F20","align":"center","baseline":"alphabetic"},"encoding":{"x":{"datum":276},"y":{"datum":26100}}},
{"data":{"values":[{}]},"mark":{"type":"text","text":"support","font":"Lato","fontSize":23,"color":"#231F20","align":"center","baseline":"alphabetic"},"encoding":{"x":{"datum":276},"y":{"datum":18150}}},
{"data":{"values":[{}]},"mark":{"type":"point","shape":"M-0.3,-1.667L0.3,-1.667L0.3,0.576L1,0.576L0,1.667L-1,0.576L-0.3,0.576Z","size":1089,"filled":true,"color":"#D1D3D4","strokeWidth":0,"opacity":1},"encoding":{"x":{"datum":274.9},"y":{"datum":3450}}},
{"data":{"values":[{}]},"mark":{"type":"text","text":"Chimeric","font":"Lato","fontSize":23,"color":"#231F20","align":"center","baseline":"alphabetic"},"encoding":{"x":{"datum":275.5},"y":{"datum":-16000}}},
{"data":{"values":[{}]},"mark":{"type":"text","text":"scaffold","font":"Lato","fontSize":23,"color":"#231F20","align":"center","baseline":"alphabetic"},"encoding":{"x":{"datum":275.8},"y":{"datum":-24300}}}
]
},
{
"layer":[
{"data":{"name":"cov"},"mark":{"type":"line","color":"#3b57a8","strokeWidth":0.9},
"encoding":{"x":{"field":"kbp","type":"quantitative"},"y":{"field":"coverage","type":"quantitative","scale":{"domain":[-200,1200],"nice":false,"zero":false},"axis":{"orient":"right","values":[-200,0,200,400,600,800,1000,1200],"format":"d","labelBaseline":{"condition":{"test":"datum.value == -200","value":"bottom"},"value":"middle"},"title":"LLR support","titleAngle":90,"titleX":34,"titleY":115,"titleAlign":"center","titleBaseline":"middle"}}}},
{"data":{"name":"llr"},"mark":{"type":"line","color":"#f27676","strokeWidth":0.9,"interpolate":"step-after"},
"encoding":{"x":{"field":"kbp","type":"quantitative"},"y":{"field":"llr","type":"quantitative"}}}
]
},
{"data":{"values":[{}]},"mark":{"type":"rect","fillOpacity":0,"stroke":"#ED1C24","strokeWidth":6,"strokeJoin":"miter"},
"encoding":{"x":{"datum":99.4},"x2":{"datum":159.8},"y":{"datum":81900,"type":"quantitative","scale":{"domain":[-2000,80000],"nice":false,"zero":false},"axis":null},"y2":{"datum":-23700}}}
],
"resolve":{"scale":{"y":"independent"}}
}
